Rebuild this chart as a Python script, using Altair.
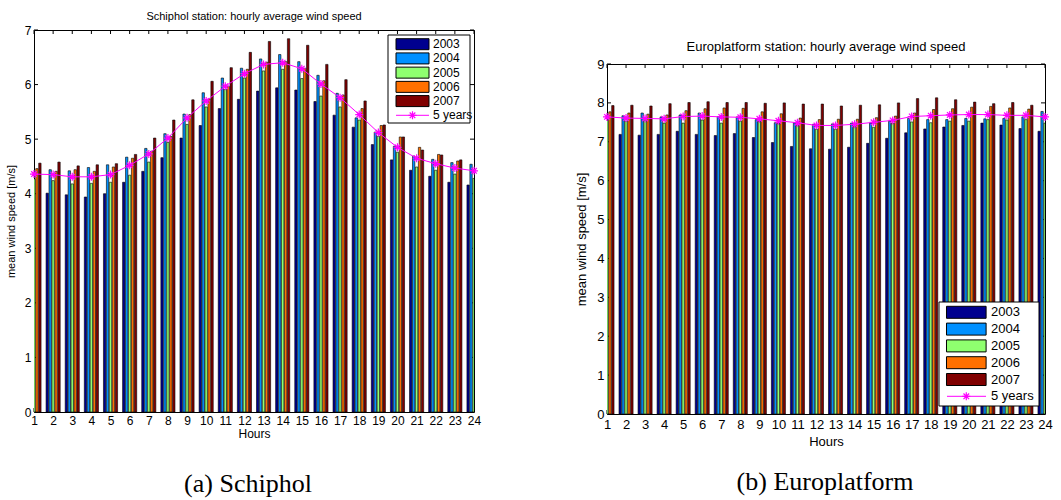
import altair as alt
import pandas as pd

HOURS = list(range(1, 25))
YEARS = ["2003", "2004", "2005", "2006", "2007"]
YEAR_COLORS = ["#00008f", "#0090ff", "#8fff6f", "#ff7000", "#800000"]
MEAN_LABEL = "5 years"
MEAN_COLOR = "#ff00ff"

# Schiphol station, mean wind speed per hour of day [m/s]
SCHIPHOL_2003 = [4.05, 4.01, 3.98, 3.94, 4.00, 4.21, 4.41, 4.66, 5.02, 5.25, 5.56, 5.73,
                 5.88, 5.94, 5.90, 5.69, 5.44, 5.22, 4.90, 4.62, 4.43, 4.32, 4.21, 4.16]
SCHIPHOL_2004 = [4.46, 4.44, 4.42, 4.48, 4.53, 4.67, 4.83, 5.10, 5.46, 5.85, 6.12, 6.30,
                 6.47, 6.55, 6.42, 6.17, 5.84, 5.39, 5.13, 4.87, 4.69, 4.63, 4.57, 4.54]
SCHIPHOL_2005 = [4.27, 4.24, 4.18, 4.19, 4.21, 4.34, 4.58, 4.94, 5.27, 5.59, 5.91, 6.12,
                 6.25, 6.28, 6.11, 5.79, 5.59, 5.35, 5.05, 4.76, 4.49, 4.43, 4.36, 4.28]
SCHIPHOL_2006 = [4.46, 4.41, 4.44, 4.41, 4.49, 4.65, 4.78, 5.05, 5.45, 5.74, 5.97, 6.28,
                 6.41, 6.42, 6.30, 6.07, 5.81, 5.56, 5.25, 5.04, 4.85, 4.72, 4.60, 4.55]
SCHIPHOL_2007 = [4.56, 4.58, 4.51, 4.53, 4.55, 4.72, 5.02, 5.35, 5.72, 6.06, 6.31, 6.59,
                 6.79, 6.84, 6.72, 6.37, 6.09, 5.70, 5.26, 5.04, 4.80, 4.71, 4.62, 4.57]
SCHIPHOL_MEAN = [4.36, 4.35, 4.31, 4.31, 4.35, 4.52, 4.73, 5.02, 5.39, 5.70, 5.97, 6.20,
                 6.37, 6.40, 6.29, 6.01, 5.76, 5.45, 5.12, 4.85, 4.65, 4.55, 4.47, 4.42]

# Europlatform station, mean wind speed per hour of day [m/s]
EURO_2003 = [7.20, 7.19, 7.17, 7.19, 7.27, 7.19, 7.16, 7.21, 7.11, 6.98, 6.88, 6.82,
             6.81, 6.86, 6.96, 7.09, 7.23, 7.33, 7.38, 7.42, 7.48, 7.43, 7.34, 7.27]
EURO_2004 = [7.75, 7.67, 7.74, 7.64, 7.69, 7.74, 7.65, 7.64, 7.57, 7.49, 7.48, 7.45,
             7.46, 7.48, 7.48, 7.53, 7.60, 7.57, 7.57, 7.60, 7.59, 7.60, 7.64, 7.78]
EURO_2005 = [7.55, 7.53, 7.56, 7.48, 7.48, 7.56, 7.48, 7.53, 7.53, 7.48, 7.42, 7.32,
             7.32, 7.42, 7.37, 7.48, 7.51, 7.49, 7.53, 7.53, 7.57, 7.56, 7.57, 7.48]
EURO_2006 = [7.77, 7.74, 7.71, 7.69, 7.80, 7.85, 7.87, 7.86, 7.77, 7.72, 7.61, 7.57,
             7.58, 7.58, 7.62, 7.66, 7.74, 7.83, 7.85, 7.89, 7.91, 7.87, 7.84, 7.80]
EURO_2007 = [7.93, 7.94, 7.92, 7.98, 8.01, 8.03, 8.01, 8.01, 7.99, 8.00, 7.97, 7.97,
             7.92, 7.94, 7.95, 8.00, 8.11, 8.13, 8.08, 8.02, 7.98, 8.01, 7.94, 7.87]
EURO_MEAN = [7.64, 7.61, 7.60, 7.59, 7.65, 7.66, 7.64, 7.63, 7.59, 7.54, 7.49, 7.42,
             7.42, 7.45, 7.50, 7.55, 7.65, 7.67, 7.69, 7.70, 7.70, 7.68, 7.68, 7.64]

FONT = "Liberation Sans"
SERIF = "Liberation Serif"
ASTERISK = "M-1,0L1,0M0,-1L0,1M-0.7,-0.7L0.7,0.7M-0.7,0.7L0.7,-0.7"
TICK_LEN = 4

# grouped bars: 5 bars share a group width of 5/6.5, each bar fills 80% of its slot
GROUP_STEP = (5 / 6.5) / 5
BAR_HALF = 0.8 * GROUP_STEP / 2


def bar_table(series):
    rows = []
    for k, (year, values) in enumerate(zip(YEARS, series)):
        for h, v in zip(HOURS, values):
            rows.append({"hour": h, "year": year, "k": k, "speed": v})
    return pd.DataFrame(rows)


def panel(series, mean, title, caption, ymax, w, h, st):
    bars_df = bar_table(series)
    mean_df = pd.DataFrame({"hour": HOURS, "speed": mean})
    xscale = alt.Scale(domain=[1, 24], nice=False, zero=False)
    yscale = alt.Scale(domain=[0, ymax], nice=False)
    xaxis = alt.Axis(values=HOURS, title="Hours", ticks=False, domain=False, grid=False,
                     labelFlush=False, labelOverlap=False, labelPadding=st["xlabpad"],
                     labelFontSize=st["fs"], titleFontSize=st["fs"], titleFontWeight="normal",
                     titlePadding=st["xtitlepad"])
    yaxis = alt.Axis(values=list(range(ymax + 1)), title="mean wind speed [m/s]", ticks=False,
                     domain=False, grid=False, labelFlush=False, labelOverlap=False,
                     labelPadding=3, labelFontSize=st["fs"], titleFontSize=st["tfs"],
                     titleFontWeight="normal", titlePadding=st["ytitlepad"])

    def X(field):
        return alt.X(f"{field}:Q", scale=xscale, axis=xaxis)

    def Y(field):
        return alt.Y(f"{field}:Q", scale=yscale, axis=yaxis)

    hour_ticks = pd.DataFrame({"hour": HOURS})
    speed_ticks = pd.DataFrame({"speed": list(range(ymax + 1))})
    tick_style = dict(color="black", strokeWidth=1)
    ticks = [
        alt.Chart(hour_ticks).mark_rule(**tick_style).encode(
            x=X("hour"), y=alt.value(0), y2=alt.value(TICK_LEN)),
        alt.Chart(hour_ticks).mark_rule(**tick_style).encode(
            x=X("hour"), y=alt.value(h), y2=alt.value(h - TICK_LEN)),
        alt.Chart(speed_ticks).mark_rule(**tick_style).encode(
            y=Y("speed"), x=alt.value(0), x2=alt.value(TICK_LEN)),
        alt.Chart(speed_ticks).mark_rule(**tick_style).encode(
            y=Y("speed"), x=alt.value(w), x2=alt.value(w - TICK_LEN)),
    ]

    bars = alt.Chart(bars_df).transform_calculate(
        x0=f"datum.hour + (datum.k - 2) * {GROUP_STEP} - {BAR_HALF}",
        x1=f"datum.hour + (datum.k - 2) * {GROUP_STEP} + {BAR_HALF}",
    ).mark_bar(clip=True, stroke="black", strokeWidth=0.6).encode(
        x=X("x0"), x2="x1:Q", y=Y("speed"), y2=alt.datum(0),
        color=alt.Color("year:N", scale=alt.Scale(domain=YEARS, range=YEAR_COLORS), legend=None),
    )
    line = alt.Chart(mean_df).mark_line(color=MEAN_COLOR, strokeWidth=1).encode(
        x=X("hour"), y=Y("speed"))
    stars = alt.Chart(mean_df).mark_point(shape=ASTERISK, size=64, filled=False,
                                          color=MEAN_COLOR, strokeWidth=1.2, opacity=1).encode(
        x=X("hour"), y=Y("speed"))
    main = alt.layer(*ticks, bars, line, stars)

    # legend drawn inside the axes
    lg = st["legend"]
    leg_df = pd.DataFrame({"label": YEARS + [MEAN_LABEL], "slot": list(range(6)),
                           "color": YEAR_COLORS + [MEAN_COLOR]})
    ly = alt.Y("slot:Q", scale=alt.Scale(domain=[0, 5], range=[lg["y0"], lg["y5"]]), axis=None)
    box = alt.Chart(pd.DataFrame({"box": [0]})).mark_rect(
        fill="white", stroke="black", strokeWidth=1).encode(
        x=alt.value(lg["bx0"]), x2=alt.value(lg["bx1"]), y=alt.value(lg["by0"]), y2=alt.value(lg["by1"]))
    swatches = alt.Chart(leg_df).transform_filter("datum.slot < 5").mark_point(
        shape=lg["swatch"], size=lg["swsize"], filled=True, stroke="black", strokeWidth=1,
        opacity=1).encode(x=alt.value(lg["sx"]), y=ly, fill=alt.Fill("color:N", scale=None))
    labels = alt.Chart(leg_df).mark_text(align="left", baseline="middle", fontSize=lg["fs"],
                                         font=FONT, color="black").encode(
        x=alt.value(lg["tx"]), y=ly, text="label:N")
    leg_line = alt.Chart(leg_df).transform_filter("datum.slot == 5").mark_rule(
        color=MEAN_COLOR, strokeWidth=1).encode(
        x=alt.value(lg["lx0"]), x2=alt.value(lg["lx1"]), y=ly)
    leg_star = alt.Chart(leg_df).transform_filter("datum.slot == 5").mark_point(
        shape=ASTERISK, size=64, filled=False, color=MEAN_COLOR, strokeWidth=1.2, opacity=1).encode(
        x=alt.value(lg["sx"]), y=ly)
    legend = alt.layer(box, swatches, labels, leg_line, leg_star)

    cap = alt.Chart(pd.DataFrame({"caption": [caption]})).mark_text(
        font=SERIF, fontSize=26, align="center", baseline="middle", color="black").encode(
        x=alt.value(st["capx"]), y=alt.value(st["capy"]), text="caption:N")

    return alt.layer(main, legend, cap).resolve_scale(y="independent").properties(
        width=w, height=h,
        title=alt.TitleParams(title, fontSize=st["tfs"], font=FONT, fontWeight="normal",
                              color="black", offset=st["toff"]),
    )


left = panel(
    [SCHIPHOL_2003, SCHIPHOL_2004, SCHIPHOL_2005, SCHIPHOL_2006, SCHIPHOL_2007], SCHIPHOL_MEAN,
    "Schiphol station: hourly average wind speed", "(a) Schiphol", 7, 440, 382,
    dict(fs=12, tfs=11, xlabpad=3, xtitlepad=2, ytitlepad=8, toff=2, capx=214, capy=454,
         legend=dict(bx0=354, bx1=436, by0=5, by1=93, y0=14.2, y5=85.3, sx=378.5,
                     swatch="M-3,-1H3V1H-3Z", swsize=121, tx=399, fs=12, lx0=362, lx1=395)),
)
right = panel(
    [EURO_2003, EURO_2004, EURO_2005, EURO_2006, EURO_2007], EURO_MEAN,
    "Europlatform station: hourly average wind speed", "(b) Europlatform", 9, 438, 350,
    dict(fs=13, tfs=13, xlabpad=4, xtitlepad=4, ytitlepad=8, toff=4, capx=218, capy=418,
         legend=dict(bx0=332, bx1=432, by0=238, by1=342, y0=248.3, y5=332.3, sx=359.3,
                     swatch="M-3.3,-1H3.3V1H-3.3Z", swsize=144, tx=384, fs=13, lx0=340, lx1=379)),
)

# empty strip that pushes the right-hand axes further down the page
spacer = alt.Chart(pd.DataFrame({"gap": [0]})).mark_point(opacity=0).encode(
    x=alt.value(0), y=alt.value(0)
).properties(width=438, height=1, view=alt.ViewBackground(stroke="transparent"))

chart = alt.hconcat(left, alt.vconcat(spacer, right, spacing=6), spacing=93).properties(
    padding={"left": 4, "top": 10, "right": 0, "bottom": 0},
).configure(font=FONT).configure_view(stroke="black", strokeWidth=1).configure_axis(
    labelColor="black", titleColor="black", labelFont=FONT, titleFont=FONT)

chart.save("out.html", embed_options={"renderer": "svg", "actions": False})
